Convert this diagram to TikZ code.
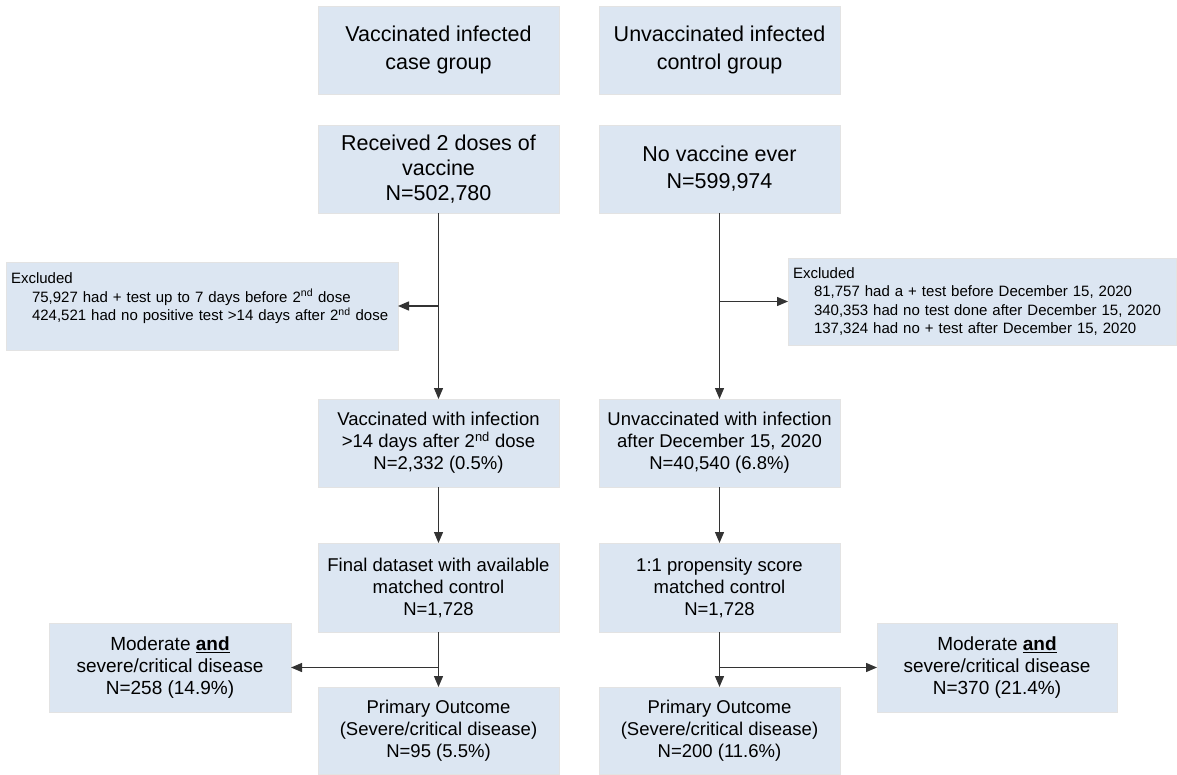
\documentclass[tikz,border=0pt]{standalone}
\usepackage{fontspec}
\setmainfont{Liberation Sans}
\usetikzlibrary{positioning}
\usetikzlibrary{arrows.meta}
\definecolor{boxfill}{HTML}{DCE6F2}
\colorlet{boxline}{gray!22}
\colorlet{flowline}{black!80}

\begin{document}
\begin{tikzpicture}[x=1pt, y=-1pt,
        stage/.style={fill=boxfill, draw=boxline, minimum width=241pt, minimum height=88pt, inner sep=0pt, outer sep=0pt, align=center, font=\fontsize{18.5}{22}\selectfont},
        head/.style={stage, font=\fontsize{21.5}{27}\selectfont},
        severity/.style={stage, minimum width=242pt, minimum height=89pt, font=\fontsize{19}{22}\selectfont},
        excl/.style={fill=boxfill, draw=boxline, minimum height=88pt, inner ysep=0pt, inner xsep=5pt, outer sep=0pt, align=left, font=\fontsize{15}{18.5}\selectfont},
        arr/.style={draw=flowline, line width=1.3pt, -{Triangle[length=11pt,width=9pt]}}]
        \useasboundingbox (0,0) rectangle (1177,775);

        % study groups
        \node [head, font=\fontsize{21.5}{28}\selectfont] (vcase) at (438.5,50) {Vaccinated infected\\case group};
        \node [head, font=\fontsize{21.5}{28}\selectfont] (ucase) at (719.5,50) {Unvaccinated infected\\control group};

        \node [head, font=\fontsize{21.5}{25}\selectfont, below=31pt of vcase] (vdose) {Received 2 doses of\\vaccine\\N=502,780};
        \node [head, below=31pt of ucase] (unone) {No vaccine ever\\N=599,974};

        \node [stage, below=186pt of vdose] (vinf) {Vaccinated with infection\\>14 days after 2\textsuperscript{nd} dose\\N=2,332 (0.5\%)};
        \node [stage, below=186pt of unone] (uinf) {Unvaccinated with infection\\after December 15, 2020\\N=40,540 (6.8\%)};

        \node [stage, minimum height=89pt, below=56pt of vinf] (vmatch) {Final dataset with available\\matched control\\N=1,728};
        \node [stage, minimum height=89pt, below=56pt of uinf] (umatch) {1:1 propensity score\\matched control\\N=1,728};

        \node [stage, minimum height=87pt, below=55pt of vmatch] (vprim) {Primary Outcome\\(Severe/critical disease)\\N=95 (5.5\%)};
        \node [stage, minimum height=87pt, below=55pt of umatch] (uprim) {Primary Outcome\\(Severe/critical disease)\\N=200 (11.6\%)};

        % side boxes
        \node [excl, text width=382pt] (vexcl) at (202,306) {Excluded\\
            \hspace*{21pt}75,927 had + test up to 7 days before 2\textsuperscript{nd} dose\\
            \hspace*{21pt}424,521 had no positive test >14 days after 2\textsuperscript{nd} dose\\
            \mbox{}};
        \node [excl, text width=378pt, minimum height=87pt] (uexcl) at (982,301.5) {Excluded\\
            \hspace*{21pt}81,757 had a + test before December 15, 2020\\
            \hspace*{21pt}340,353 had no test done after December 15, 2020\\
            \hspace*{21pt}137,324 had no + test after December 15, 2020};

        \node [severity] (vmod) at (170,667.5) {Moderate \underline{\textbf{and}}\\severe/critical disease\\N=258 (14.9\%)};
        \node [severity, minimum width=240pt] (umod) at (997,667.5) {Moderate \underline{\textbf{and}}\\severe/critical disease\\N=370 (21.4\%)};

        % connectors
        \draw [arr] (vdose) -- (vinf);
        \draw [arr] (unone) -- (uinf);
        \draw [arr] (vdose.south |- vexcl.east) -- (vexcl.east);
        \draw [arr] (unone.south |- uexcl.west) -- (uexcl.west);
        \draw [arr] (vinf) -- (vmatch);
        \draw [arr] (uinf) -- (umatch);
        \draw [arr] (vmatch) -- (vprim);
        \draw [arr] (umatch) -- (uprim);
        \draw [arr] (vmatch.south |- vmod.east) -- (vmod.east);
        \draw [arr] (umatch.south |- umod.west) -- (umod.west);
    \end{tikzpicture}
\end{document}
